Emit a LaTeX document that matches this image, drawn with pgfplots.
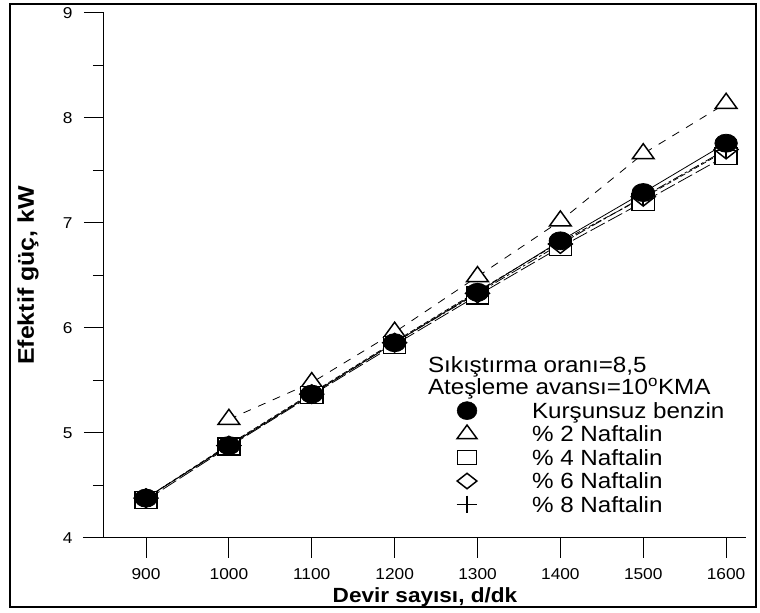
\documentclass[border=0pt]{standalone}
\usepackage{fontspec}
\setmainfont{Liberation Sans}[FakeStretch=1.1]
\usepackage{pgfplots}
\pgfplotsset{compat=1.18}
\begin{document}
\begin{tikzpicture}
\begin{axis}[
 at={(0pt,0pt)}, anchor=south west, scale only axis,
 width=481.5pt, height=393.75pt,
 xmin=849.3, xmax=1624, ymin=4, ymax=9,
 clip=false,
 axis x line*=bottom, axis y line*=left,
 x axis line style={shorten <=-15.75pt, line width=0.75pt},
 y axis line style={line width=0.75pt},
 xtick={900,1000,...,1600}, ytick={4,5,...,9}, minor ytick={4.5,5.5,...,8.5},
 tick align=outside, major tick length=15pt, minor tick length=8.25pt,
 every tick/.style={black, line width=0.75pt},
 /pgf/number format/assume math mode=true,
 /pgf/number format/1000 sep={},
 tick label style={font=\fontsize{11.8}{14}\selectfont},
 yticklabel style={xshift=-5pt},
 xticklabel style={yshift=-4pt},
 xlabel={Devir sayısı, d/dk}, ylabel={Efektif güç, kW},
 xlabel style={font=\bfseries\fontsize{15.4}{18}\selectfont, at={(axis description cs:0.5,-0.1124)}, anchor=center},
 ylabel style={font=\bfseries\fontsize{17}{20}\selectfont, at={(axis description cs:-0.1184,0.5)}, anchor=center},
 legend style={draw=none, fill=none, inner sep=0pt, outer sep=0pt,
   at={(axis cs:1274.5,5.380)}, anchor=north west,
   font=\fontsize{16.5}{19}\selectfont, row sep=-3.2pt,
   nodes={inner sep=0pt, text height=12pt, text depth=2pt},
   /tikz/every odd column/.append style={column sep=40.75pt}},
 legend cell align=left,
 legend image code/.code={\path[draw=none,fill=none] (-8pt,-2pt) rectangle (8pt,13.8pt); \draw[#1] plot coordinates {(0pt,0.65pt)};},
]
% % 2 Naftalin
\addplot[black, line width=0.6pt, dash pattern=on 6pt off 6pt, mark=triangle*, mark size=7.5pt,
  mark options={solid, fill=white, xscale=1.25, line width=1.1pt}, forget plot]
  coordinates {(1000,5.13)(1100,5.48)(1200,5.96)(1300,6.49)(1400,7.02)(1500,7.66)(1600,8.14)};
% % 4 Naftalin
\addplot[black, line width=0.6pt, dash pattern=on 12pt off 3pt, mark=square*, mark size=6.4pt,
  mark options={solid, fill=white, xscale=1.3, line width=1.1pt}, forget plot]
  coordinates {(900,4.36)(1000,4.87)(1100,5.36)(1200,5.84)(1300,6.31)(1400,6.77)(1500,7.20)(1600,7.64)};
% % 6 Naftalin
\addplot[black, line width=0.6pt, dash pattern=on 8pt off 2pt on 2pt off 2pt, mark=diamond*, mark size=7pt,
  mark options={solid, fill=white, xscale=1.7, line width=1.1pt}, forget plot]
  coordinates {(900,4.38)(1000,4.88)(1100,5.37)(1200,5.86)(1300,6.33)(1400,6.80)(1500,7.25)(1600,7.70)};
% Kursunsuz benzin
\addplot[black, line width=0.6pt, mark=*, mark size=6.75pt,
  mark options={solid, fill=black, xscale=1.25, line width=0.6pt}, forget plot]
  coordinates {(900,4.38)(1000,4.88)(1100,5.37)(1200,5.86)(1300,6.34)(1400,6.83)(1500,7.29)(1600,7.76)};
% % 8 Naftalin
\addplot[black, line width=0.6pt, dash pattern=on 4pt off 2pt, mark=+, mark size=6.4pt,
  mark options={solid, xscale=1.2, line width=1.3pt}, forget plot]
  coordinates {(900,4.38)(1000,4.89)(1100,5.38)(1200,5.87)(1300,6.35)(1400,6.82)(1500,7.24)(1600,7.69)};

\addlegendimage{black, only marks, mark=*, mark size=6.75pt, mark options={fill=black, xscale=1.1}}
\addlegendentry{Kurşunsuz benzin}
\addlegendimage{black, only marks, mark=triangle*, mark size=6.8pt, mark options={fill=white, xscale=1.27, line width=1.1pt}}
\addlegendentry{\% 2 Naftalin}
\addlegendimage{black, only marks, mark=square*, mark size=5.2pt, mark options={fill=white, xscale=1.38, line width=1.1pt}}
\addlegendentry{\% 4 Naftalin}
\addlegendimage{black, only marks, mark=diamond*, mark size=5.8pt, mark options={fill=white, xscale=1.7, line width=1.1pt}}
\addlegendentry{\% 6 Naftalin}
\addlegendimage{black, only marks, mark=+, mark size=6.6pt, mark options={xscale=1.18, line width=1.3pt}}
\addlegendentry{\% 8 Naftalin}

\node[anchor=base west, inner sep=0pt, font=\fontsize{16.5}{19}\selectfont] at (axis cs:1240,5.574) {Sıkıştırma oranı=8,5};
\node[anchor=base west, inner sep=0pt, font=\fontsize{16.5}{19}\selectfont] at (axis cs:1240,5.365) {Ateşleme avansı=10\textsuperscript{o}KMA};
\end{axis}
\draw[line width=1pt] (-70.5pt,-51.75pt) rectangle (489pt,400.5pt);
\pgfresetboundingbox
\path[use as bounding box] (-78pt,-56.25pt) rectangle (492pt,403.5pt);
\end{tikzpicture}
\end{document}
